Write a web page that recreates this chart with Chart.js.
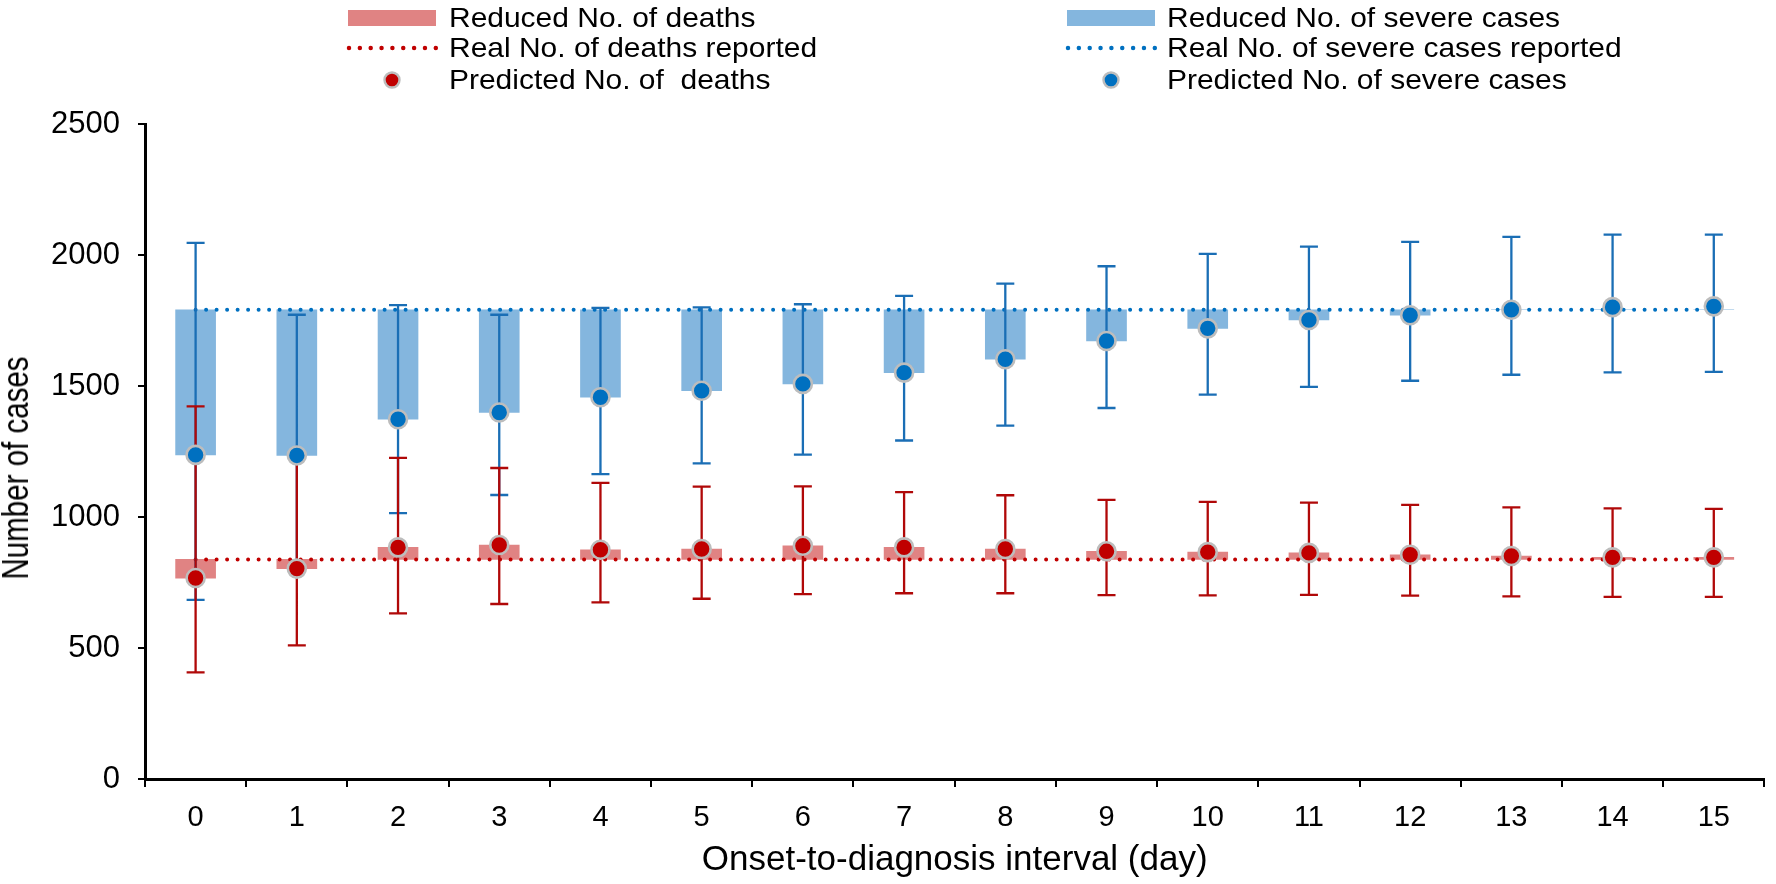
<!DOCTYPE html>
<html>
<head>
<meta charset="utf-8">
<script src="https://cdn.jsdelivr.net/npm/chart.js@4.4.0/dist/chart.umd.min.js"></script>
<style>
html,body{margin:0;padding:0;background:#fff;}
#wrap{position:relative;width:1776px;height:884px;overflow:hidden;background:#fff;}
#c{position:absolute;left:0;top:0;}
.lgText{position:absolute;font-family:"Liberation Sans",Arial,sans-serif;font-size:28px;line-height:30px;height:30px;color:#000;white-space:pre;transform-origin:0 50%;transform:scaleX(1.07);}
.lgSym{position:absolute;overflow:visible;}
#ytitle{position:absolute;left:16px;top:467.5px;font-family:"Liberation Sans",Arial,sans-serif;font-size:36px;line-height:36px;color:#000;white-space:nowrap;transform:translate(-50%,-50%) rotate(-90deg) scaleX(0.82);}
</style>
</head>
<body>
<div id="wrap">
  <canvas id="c" width="1776" height="884"></canvas>
  <div id="ytitle"></div>
</div>
<script>
// ---- data ----
const days = ['0','1','2','3','4','5','6','7','8','9','10','11','12','13','14','15'];

const realSevere = 1791;
const realDeaths = 838;

const predSevere = [1237, 1235, 1373, 1399, 1457, 1482, 1508, 1551, 1602, 1672, 1720, 1752, 1770, 1791, 1801, 1804];
const severeLow  = [684, 800, 1015, 1084, 1164, 1205, 1238, 1292, 1349, 1416, 1467, 1497, 1520, 1543, 1552, 1554];
const severeHigh = [2046, 1772, 1809, 1772, 1798, 1800, 1812, 1844, 1891, 1957, 2004, 2032, 2050, 2069, 2078, 2078];

const predDeaths = [767, 803, 884, 893, 875, 878, 890, 884, 878, 869, 866, 863, 856, 851, 846, 846];
const deathsLow  = [407, 510, 632, 668, 674, 688, 706, 709, 709, 702, 701, 703, 700, 697, 695, 695];
const deathsHigh = [1422, 1228, 1226, 1187, 1130, 1116, 1117, 1095, 1083, 1065, 1058, 1055, 1046, 1037, 1033, 1031];

const yTicks = [0, 500, 1000, 1500, 2000, 2500];

const labels = {
  barDeaths: 'Reduced No. of deaths',
  lineDeaths: 'Real No. of deaths reported',
  dotDeaths: 'Predicted No. of  deaths',
  barSevere: 'Reduced No. of severe cases',
  lineSevere: 'Real No. of severe cases reported',
  dotSevere: 'Predicted No. of severe cases'
};
const xTitle = 'Onset-to-diagnosis interval (day)';
const yTitle = 'Number of cases';

// ---- styles ----
const C = {
  barBlue: '#84B6DE', barRed: '#E08383',
  dotBlue: '#0070C0', dotRed: '#C00000', dotBorder: '#BDBDBD',
  errBlue: '#1A6EB5', errRed: '#B00808',
  lineBlue: '#0070C0', lineRed: '#C00000'
};

const errorBarsPlugin = {
  id: 'errorBars',
  beforeDatasetDraw(chart, args) {
    if (chart.data.datasets[args.index].label !== labels.dotSevere) return;
    const {ctx, scales: {x, y}} = chart;
    const drawSet = (lows, highs, color) => {
      ctx.save();
      ctx.strokeStyle = color;
      ctx.lineWidth = 2.3;
      ctx.lineCap = 'butt';
      ctx.beginPath();
      for (let i = 0; i < lows.length; i++) {
        const px = x.getPixelForValue(i);
        const y1 = y.getPixelForValue(lows[i]);
        const y2 = y.getPixelForValue(highs[i]);
        ctx.moveTo(px, y1); ctx.lineTo(px, y2);
        ctx.moveTo(px - 9, y1); ctx.lineTo(px + 9, y1);
        ctx.moveTo(px - 9, y2); ctx.lineTo(px + 9, y2);
      }
      ctx.stroke();
      ctx.restore();
    };
    drawSet(severeLow, severeHigh, C.errBlue);
    drawSet(deathsLow, deathsHigh, C.errRed);
  }
};

const regular = '"Liberation Sans",Arial,sans-serif';

const chart = new Chart(document.getElementById('c'), {
  type: 'bar',
  data: {
    labels: days,
    datasets: [
      { type: 'bar', label: labels.barSevere, data: predSevere.map(v => [Math.min(v, realSevere), realSevere]),
        backgroundColor: C.barBlue, borderWidth: 0, barThickness: 40, grouped: false, order: 10 },
      { type: 'bar', label: labels.barDeaths, data: predDeaths.map(v => [v, realDeaths]),
        backgroundColor: C.barRed, borderWidth: 0, barThickness: 40, grouped: false, order: 9 },
      { type: 'line', label: labels.lineSevere, data: days.map(() => realSevere),
        borderColor: C.lineBlue, borderWidth: 4, borderDash: [0, 10.5], borderCapStyle: 'round',
        pointRadius: 0, fill: false, order: 8 },
      { type: 'line', label: labels.lineDeaths, data: days.map(() => realDeaths),
        borderColor: C.lineRed, borderWidth: 4, borderDash: [0, 10.5], borderCapStyle: 'round',
        pointRadius: 0, fill: false, order: 7 },
      { type: 'line', label: labels.dotSevere, data: predSevere, showLine: false,
        pointRadius: 9, pointBackgroundColor: C.dotBlue, pointBorderColor: C.dotBorder,
        pointBorderWidth: 2.6, order: 2 },
      { type: 'line', label: labels.dotDeaths, data: predDeaths, showLine: false,
        pointRadius: 9, pointBackgroundColor: C.dotRed, pointBorderColor: C.dotBorder,
        pointBorderWidth: 2.6, order: 1 }
    ]
  },
  options: {
    responsive: false,
    animation: false,
    events: [],
    layout: { padding: { top: 124, right: 6, left: 0, bottom: 0 } },
    plugins: { legend: { display: false }, tooltip: { enabled: false } },
    scales: {
      x: {
        offset: true,
        grid: { offset: true, drawOnChartArea: false, drawTicks: true, tickLength: 8, color: '#000', lineWidth: 2 },
        border: { display: true, color: '#000', width: 3 },
        ticks: { color: '#000', font: { family: regular, size: 29 }, padding: 14 },
        title: { display: true, text: xTitle, color: '#000',
          font: { family: regular, size: 35, lineHeight: 1.2 }, padding: { top: 0, bottom: 3 } },
        afterFit(s) { s.height = 105; }
      },
      y: {
        min: 0, max: 2500,
        afterBuildTicks(s) { s.ticks = yTicks.map(v => ({ value: v })); },
        grid: { drawOnChartArea: false, drawTicks: true, tickLength: 7, color: '#000', lineWidth: 2 },
        border: { display: true, color: '#000', width: 3 },
        ticks: { color: '#000', font: { family: regular, size: 31 }, padding: 18,
          callback: v => String(v) },
        title: { display: false },
        afterFit(s) { s.width = 145; }
      }
    }
  },
  plugins: [errorBarsPlugin]
});

document.getElementById('ytitle').textContent = yTitle;

// ---- HTML legend (two columns of three rows) ----
const wrap = document.getElementById('wrap');
const rowsY = [17.5, 47.5, 79.5];
const columns = [
  { symX: 347, textX: 448.7, items: [
    { kind: 'rect', color: C.barRed, text: labels.barDeaths },
    { kind: 'dots', color: C.lineRed, text: labels.lineDeaths },
    { kind: 'dot', color: C.dotRed, text: labels.dotDeaths } ] },
  { symX: 1066, textX: 1167.4, items: [
    { kind: 'rect', color: C.barBlue, text: labels.barSevere },
    { kind: 'dots', color: C.lineBlue, text: labels.lineSevere },
    { kind: 'dot', color: C.dotBlue, text: labels.dotSevere } ] }
];
const svgNS = 'http://www.w3.org/2000/svg';
columns.forEach(col => {
  col.items.forEach((it, r) => {
    const cy = rowsY[r];
    const svg = document.createElementNS(svgNS, 'svg');
    svg.setAttribute('class', 'lgSym');
    svg.setAttribute('width', 92); svg.setAttribute('height', 24);
    svg.style.left = col.symX + 'px'; svg.style.top = (cy - 12) + 'px';
    if (it.kind === 'rect') {
      const rc = document.createElementNS(svgNS, 'rect');
      rc.setAttribute('x', 1); rc.setAttribute('y', 4); rc.setAttribute('width', 88); rc.setAttribute('height', 16);
      rc.setAttribute('fill', it.color);
      svg.appendChild(rc);
    } else if (it.kind === 'dots') {
      const ln = document.createElementNS(svgNS, 'line');
      ln.setAttribute('x1', 2); ln.setAttribute('x2', 89); ln.setAttribute('y1', 12); ln.setAttribute('y2', 12);
      ln.setAttribute('stroke', it.color); ln.setAttribute('stroke-width', 4.5);
      ln.setAttribute('stroke-linecap', 'round'); ln.setAttribute('stroke-dasharray', '0 10.85');
      svg.appendChild(ln);
    } else {
      const ci = document.createElementNS(svgNS, 'circle');
      ci.setAttribute('cx', 45); ci.setAttribute('cy', 12); ci.setAttribute('r', 7.5);
      ci.setAttribute('fill', it.color); ci.setAttribute('stroke', C.dotBorder); ci.setAttribute('stroke-width', 2.4);
      svg.appendChild(ci);
    }
    wrap.appendChild(svg);
    const t = document.createElement('div');
    t.className = 'lgText';
    t.textContent = it.text;
    t.style.left = col.textX + 'px';
    t.style.top = (cy - 15) + 'px';
    wrap.appendChild(t);
  });
});
</script>
</body>
</html>
